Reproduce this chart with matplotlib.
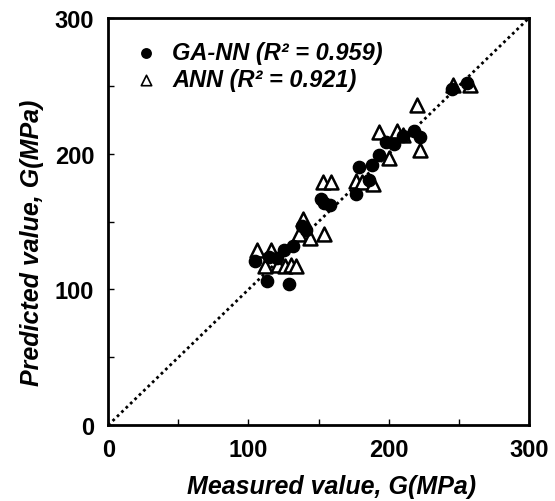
#!/usr/bin/env python
# -*- coding: utf-8 -*-
import matplotlib
matplotlib.use("Agg")
import matplotlib.pyplot as plt
from matplotlib.ticker import MultipleLocator

# measured vs predicted shear modulus G (MPa)
ga_measured = [105, 113, 115, 120, 125, 129, 132, 138, 141, 152, 154, 158,
               177, 179, 186, 188, 193, 198, 204, 210, 218, 222, 245, 256]
ga_predicted = [121, 106, 124, 123, 129, 104, 132, 147, 144, 167, 164, 162,
                170, 190, 181, 192, 199, 209, 207, 213, 217, 212, 248, 252]

ann_measured = [106, 112, 116, 121, 126, 130, 134, 139, 136, 144, 153, 159,
                154, 177, 181, 189, 193, 200, 206, 210, 220, 222, 246, 258]
ann_predicted = [129, 117, 129, 118, 117, 118, 117, 152, 141, 138, 179, 179,
                 141, 180, 179, 178, 216, 197, 217, 214, 236, 203, 251, 251]

ticks = [0, 100, 200, 300]


def main():
    plt.rcParams['font.family'] = ['Liberation Sans', 'DejaVu Sans']
    fig = plt.figure(figsize=(5.55, 5.02), dpi=100)
    ax = fig.add_axes([0.195, 0.151, 0.758, 0.811])

    ax.plot([0, 300], [0, 300], color="black", linestyle=(0, (1, 1.2)), lw=2, zorder=1)
    ax.scatter(ann_measured, ann_predicted, marker="^", s=100, facecolor="white",
               edgecolor="black", linewidths=1.8, zorder=2,
               label="ANN (R² = 0.921)")
    ax.scatter(ga_measured, ga_predicted, marker="o", s=78, color="black", zorder=3,
               label="GA-NN (R² = 0.959)")

    ax.set_xlim(0, 300)
    ax.set_ylim(0, 300)
    ax.set_xticks(ticks)
    ax.set_yticks(ticks)
    ax.xaxis.set_minor_locator(MultipleLocator(50))
    ax.yaxis.set_minor_locator(MultipleLocator(50))
    ax.tick_params(which="both", direction="in", length=4, width=1, top=False, right=False)
    ax.tick_params(axis="x", pad=9)
    ax.tick_params(axis="y", pad=10)
    for lab in ax.get_xticklabels() + ax.get_yticklabels():
        lab.set_fontsize(17)
        lab.set_fontweight("bold")
    for sp in ax.spines.values():
        sp.set_linewidth(2)

    ax.set_xlabel("Measured value, G(MPa)", fontsize=18, fontweight="bold",
                  fontstyle="italic")
    ax.set_ylabel("Predicted value, G(MPa)", fontsize=18, fontweight="bold",
                  fontstyle="italic")
    ax.xaxis.set_label_coords(0.53, -0.12)
    ax.yaxis.set_label_coords(-0.152, 0.45)

    handles, labels = ax.get_legend_handles_labels()
    leg = ax.legend(handles[::-1], labels[::-1], loc="upper left", frameon=False,
                    bbox_to_anchor=(-0.005, 0.995),
                    prop={"size": 17, "weight": "bold", "style": "italic"},
                    handletextpad=0.3, handlelength=1.6, labelspacing=0.15,
                    borderaxespad=0.5, markerscale=0.75)
    for h in leg.legend_handles:
        h.set_linewidth(1.2)

    fig.savefig("out.png", dpi=100)


if __name__ == "__main__":
    main()
